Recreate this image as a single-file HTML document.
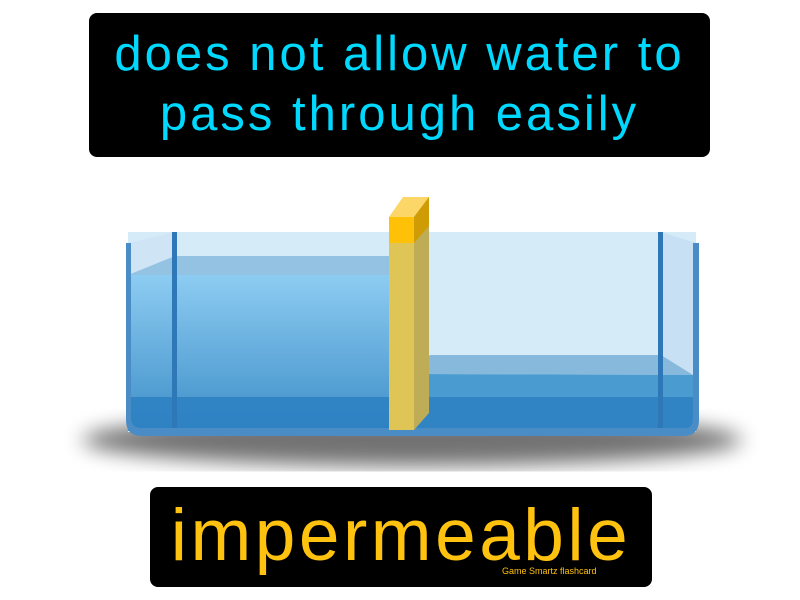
<!DOCTYPE html>
<html><head><meta charset="utf-8"><style>
html,body{margin:0;padding:0;background:#fff;}
#c{position:relative;width:800px;height:600px;overflow:hidden;font-family:"Liberation Sans",sans-serif;}
.box{position:absolute;background:#000;border-radius:8px;}
</style></head><body>
<div id="c">
<div class="box" style="left:89px;top:13px;width:621px;height:144px;"></div>
<div style="position:absolute;left:89px;top:24px;width:621px;text-align:center;color:#00d9ff;font-size:49px;letter-spacing:3px;line-height:60px;">does not allow water to<br>pass through easily</div>
<svg width="800" height="600" style="position:absolute;left:0;top:0">
<defs>
<radialGradient id="sh" cx="0.5" cy="0.5" r="0.5"><stop offset="0" stop-color="#000" stop-opacity="0.85"/><stop offset="0.6" stop-color="#000" stop-opacity="0.35"/><stop offset="1" stop-color="#000" stop-opacity="0"/></radialGradient>
<linearGradient id="wl" x1="0" y1="0" x2="0" y2="1"><stop offset="0" stop-color="#8dccf2"/><stop offset="1" stop-color="#3f8fc8"/></linearGradient>
<filter id="bl"><feGaussianBlur stdDeviation="10"/></filter>
</defs>
<ellipse cx="412" cy="440" rx="330" ry="26" fill="#000" opacity="0.55" filter="url(#bl)"/>
<rect x="128" y="232" width="568" height="200" fill="#d6ebf8"/>
<polygon points="128,243 175,232 175,430 128,430" fill="#cfe5f6"/>
<polygon points="696,243 661,232 661,430 696,430" fill="#c8e0f4"/>
<polygon points="128,275 175,256 389,256 389,275" fill="#94c2e2"/>
<rect x="128" y="275" width="261" height="155" fill="url(#wl)"/>
<polygon points="414,374 430,355 661,355 693,375" fill="#87b9dc"/>
<polygon points="414,374 693,375 693,430 414,430" fill="#4a9bd0"/>
<rect x="128" y="397" width="568" height="34" fill="#2c80c2" opacity="0.85"/>
<rect x="172" y="232" width="5" height="198" fill="#2f78b8"/>
<rect x="658" y="232" width="5" height="198" fill="#2f78b8"/>
<path d="M126,243 L131,243 L131,418 Q131,428 142,428 L686,428 Q693,428 693,418 L693,243 L699,243 L699,420 Q699,436 683,436 L142,436 Q126,436 126,420 Z" fill="#4a8cc6"/>
<polygon points="389,217 403,197 429,197 414,217" fill="#fcd667"/>
<polygon points="414,217 429,197 429,413 414,430" fill="#bfac56"/>
<polygon points="414,217 429,197 429,226 414,243" fill="#cf9c05"/>
<rect x="389" y="217" width="25" height="213" fill="#dfc555"/>
<rect x="389" y="217" width="25" height="26" fill="#fec108"/>
</svg>
<div class="box" style="left:150px;top:487px;width:502px;height:100px;"></div>
<div style="position:absolute;left:150px;top:494px;width:502px;text-align:center;color:#ffc20e;font-size:73px;letter-spacing:3.5px;line-height:84px;">impermeable</div>
<div style="position:absolute;left:502px;top:566px;color:#ffc20e;font-size:9px;">Game Smartz flashcard</div>
</div>
</body></html>
